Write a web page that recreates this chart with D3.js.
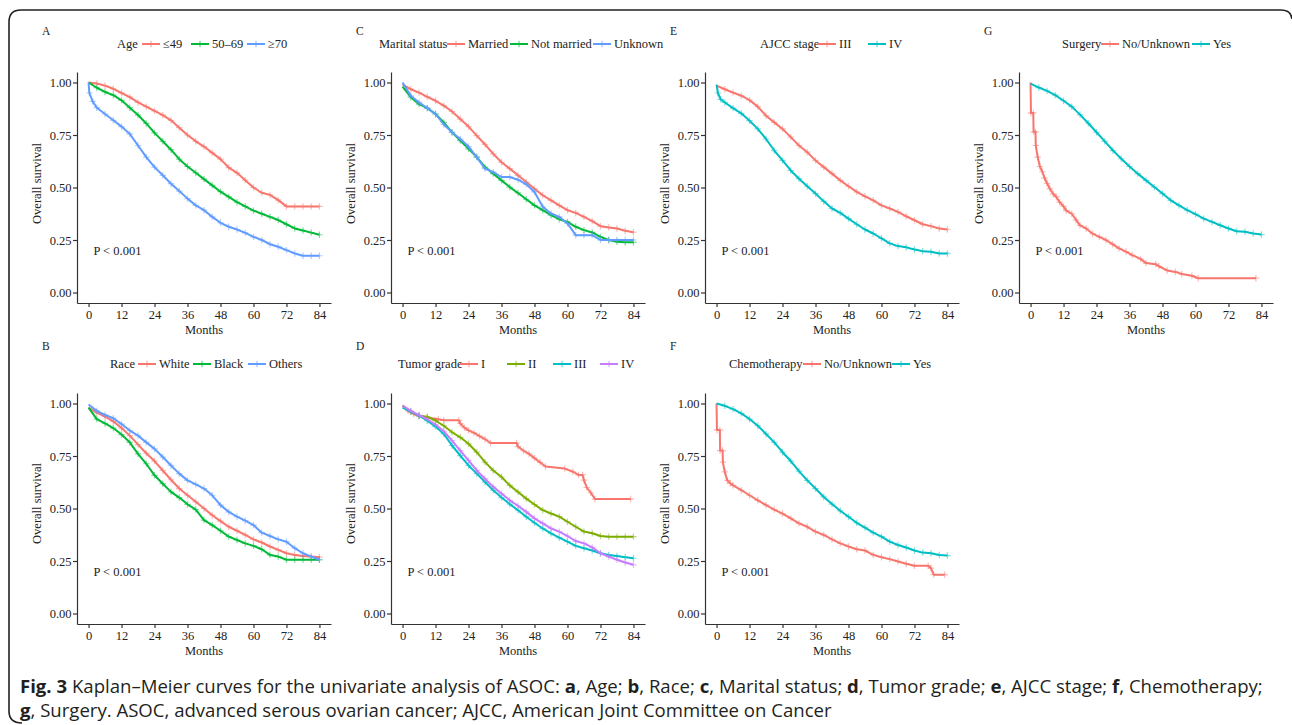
<!DOCTYPE html>
<meta charset="utf-8">
<head>
<title>Kaplan-Meier curves, ASOC</title>
<script src="https://cdn.jsdelivr.net/npm/d3@7"></script>
<style>
  body { margin: 0; background: #fff; }
  .serif text { font-family: "Liberation Serif", "Times New Roman", "DejaVu Serif", serif; fill: #222; }
  .axis path, .axis line { stroke: #333; stroke-width: 1.2; }
  .axis text { fill: #222; }
  .caption { font-family: "Open Sans", "Noto Sans", sans-serif; fill: #231f20; }
</style>
</head>
<body>
<div id="chart"></div>
<script>
// ---- data ----
var months = [0,3,6,9,12,15,18,21,24,27,30,33,36,39,42,45,48,51,54,57,60,63,66,69,72,75,78,81,84];
var monthTicks = [0,12,24,36,48,60,72,84];
var survTicks = [0,0.25,0.5,0.75,1];

// A: age
var ageLabels = ["≤49","50–69","≥70"];
var ageLe49 = [1.00,0.995,0.985,0.97,0.95,0.93,0.905,0.885,0.865,0.845,0.82,0.785,0.75,0.72,0.695,0.665,0.635,0.595,0.57,0.535,0.50,0.475,0.465,0.44,0.41,0.41,0.41,0.41,0.41];
var age50to69 = [1.00,0.975,0.955,0.94,0.915,0.88,0.845,0.805,0.76,0.72,0.68,0.635,0.60,0.57,0.54,0.51,0.48,0.455,0.43,0.41,0.39,0.375,0.36,0.345,0.325,0.305,0.295,0.285,0.275];
var ageGe70Months = [0,0.3,1.5,3,6,9,12,15,18,21,24,27,30,33,36,39,42,45,48,51,54,57,60,63,66,69,72,75,78,81,84];
var ageGe70 = [1.00,0.95,0.91,0.88,0.85,0.82,0.79,0.755,0.70,0.645,0.597,0.558,0.518,0.483,0.447,0.415,0.392,0.36,0.332,0.313,0.30,0.284,0.265,0.25,0.23,0.218,0.202,0.186,0.175,0.175,0.175];

// B: race
var raceLabels = ["White","Black","Others"];
var raceWhite = [0.98,0.957,0.937,0.915,0.883,0.847,0.804,0.763,0.726,0.681,0.637,0.595,0.563,0.532,0.50,0.468,0.44,0.413,0.394,0.374,0.353,0.338,0.319,0.303,0.287,0.279,0.274,0.271,0.268];
var raceBlack = [0.98,0.926,0.905,0.883,0.852,0.815,0.76,0.713,0.658,0.618,0.579,0.552,0.52,0.495,0.445,0.421,0.394,0.366,0.35,0.334,0.322,0.306,0.279,0.271,0.256,0.256,0.256,0.256,0.256];
var raceOthers = [0.995,0.965,0.946,0.93,0.902,0.871,0.847,0.815,0.784,0.745,0.705,0.666,0.634,0.615,0.595,0.563,0.516,0.484,0.461,0.442,0.421,0.385,0.369,0.353,0.342,0.311,0.287,0.271,0.256];

// C: marital status
var maritalLabels = ["Married","Not married","Unknown"];
var maritalMarried = [0.99,0.968,0.952,0.932,0.913,0.89,0.862,0.826,0.79,0.747,0.705,0.66,0.62,0.59,0.558,0.526,0.494,0.463,0.439,0.415,0.392,0.379,0.36,0.34,0.316,0.31,0.305,0.294,0.287];
var maritalNot = [0.98,0.93,0.897,0.878,0.85,0.81,0.763,0.723,0.684,0.645,0.597,0.566,0.534,0.502,0.474,0.444,0.415,0.392,0.368,0.349,0.336,0.313,0.297,0.286,0.265,0.25,0.242,0.239,0.239];
var maritalUnknown = [1.00,0.937,0.905,0.878,0.85,0.80,0.763,0.731,0.695,0.645,0.59,0.573,0.55,0.55,0.537,0.515,0.479,0.408,0.376,0.36,0.329,0.273,0.273,0.273,0.25,0.25,0.25,0.25,0.25];

// D: tumor grade
var gradeLabels = ["I","II","III","IV"];
var gradeIMonths = [0,2,4,6,9,13,15,20.5,21,22.5,24,26,28,30,32,41.5,42,44,46,48,50,52,59,62,64,65.5,66,67,68.5,70,83];
var gradeI = [0.99,0.965,0.95,0.94,0.933,0.925,0.92,0.92,0.905,0.885,0.872,0.86,0.845,0.83,0.812,0.812,0.795,0.775,0.76,0.74,0.72,0.70,0.69,0.675,0.66,0.66,0.635,0.60,0.575,0.545,0.545];
var gradeII = [0.99,0.96,0.942,0.937,0.918,0.894,0.863,0.839,0.808,0.768,0.721,0.681,0.65,0.61,0.579,0.547,0.519,0.492,0.476,0.461,0.437,0.413,0.39,0.382,0.369,0.366,0.366,0.366,0.366];
var gradeIII = [0.98,0.962,0.942,0.918,0.89,0.855,0.80,0.752,0.705,0.666,0.626,0.587,0.552,0.521,0.492,0.461,0.432,0.405,0.382,0.361,0.342,0.322,0.311,0.30,0.287,0.279,0.274,0.268,0.263];
var gradeIV = [0.99,0.965,0.945,0.925,0.90,0.868,0.823,0.776,0.729,0.681,0.642,0.603,0.571,0.539,0.513,0.484,0.453,0.429,0.405,0.39,0.369,0.345,0.334,0.315,0.287,0.271,0.256,0.243,0.232];

// E: AJCC stage
var stageLabels = ["III","IV"];
var stageIII = [0.985,0.968,0.952,0.937,0.916,0.885,0.842,0.81,0.779,0.74,0.70,0.668,0.629,0.597,0.566,0.534,0.506,0.479,0.458,0.439,0.415,0.40,0.384,0.363,0.344,0.325,0.316,0.305,0.30];
var stageIVMonths = [0,0.5,1.5,3,6,9,12,15,18,21,24,27,30,33,36,39,42,45,48,51,54,57,60,63,66,69,72,75,78,81,84];
var stageIV = [0.99,0.95,0.92,0.905,0.878,0.853,0.818,0.779,0.731,0.676,0.629,0.581,0.542,0.506,0.471,0.434,0.40,0.379,0.352,0.325,0.30,0.281,0.258,0.234,0.221,0.215,0.205,0.197,0.194,0.186,0.186];

// F: chemotherapy
var chemoLabels = ["No/Unknown","Yes"];
var chemoNoMonths = [0,0.15,1.2,1.3,2.2,2.3,3,3.9,5,6,9,12,15,18,21,24,27,30,33,36,39,42,45,48,51,54,57,60,63,66,69,72,77,78,79,83];
var chemoNo = [1.00,0.874,0.874,0.776,0.776,0.721,0.674,0.634,0.62,0.61,0.587,0.563,0.539,0.516,0.495,0.476,0.453,0.429,0.413,0.39,0.374,0.353,0.334,0.319,0.306,0.30,0.279,0.268,0.259,0.248,0.237,0.227,0.227,0.216,0.185,0.185];
var chemoYes = [1.00,0.989,0.973,0.953,0.926,0.894,0.855,0.815,0.768,0.726,0.678,0.634,0.595,0.555,0.521,0.489,0.461,0.432,0.409,0.385,0.366,0.342,0.326,0.314,0.30,0.29,0.287,0.279,0.276];

// G: surgery
var surgeryLabels = ["No/Unknown","Yes"];
var surgeryNoMonths = [0,0.15,1,1.1,1.8,1.9,2.6,3.4,4.3,5.1,6,7,8.2,9.4,10.6,12,13,15,16.6,18,20.2,22.6,25,27.4,29.8,32.2,34.7,37,40,42,45.5,46.7,49.7,52.7,55,58.7,61,82];
var surgeryNo = [1.00,0.855,0.855,0.765,0.765,0.70,0.645,0.60,0.575,0.545,0.52,0.495,0.47,0.455,0.43,0.41,0.39,0.375,0.345,0.32,0.305,0.28,0.265,0.25,0.23,0.21,0.195,0.178,0.16,0.14,0.135,0.125,0.105,0.098,0.088,0.08,0.068,0.068];
var surgeryYes = [0.995,0.976,0.96,0.94,0.913,0.885,0.847,0.806,0.763,0.72,0.676,0.637,0.60,0.566,0.534,0.502,0.471,0.439,0.415,0.392,0.373,0.352,0.336,0.32,0.305,0.292,0.289,0.281,0.276];

var pal2 = ["#F8766D","#00BFC4"],
    pal3 = ["#F8766D","#00BA38","#619CFF"],
    pal4 = ["#F8766D","#7CAE00","#00BFC4","#C77CFF"];

// ---- layout ----
var W = 1292, H = 725;
var serif = "'Liberation Serif', 'Times New Roman', 'DejaVu Serif', serif";
var colX = [77, 391, 705, 1019];
var rows = [
  {top: 72, bottom: 303, legend: 48, letter: 35, title: 334, ylabShift: -4},
  {top: 393, bottom: 624, legend: 368, letter: 350, title: 655, ylabShift: -5}
];

var panels = [
  {letter: "A", col: 0, row: 0, title: "Age", titleX: 117, keyX: [142,191,247], labels: ageLabels, colors: pal3,
   series: [[months, ageLe49], [months, age50to69], [ageGe70Months, ageGe70]]},
  {letter: "B", col: 0, row: 1, title: "Race", titleX: 110, keyX: [138,193,248], labels: raceLabels, colors: pal3,
   series: [[months, raceWhite], [months, raceBlack], [months, raceOthers]]},
  {letter: "C", col: 1, row: 0, title: "Marital status", titleX: 379, keyX: [447,510,593], labels: maritalLabels, colors: pal3,
   series: [[months, maritalMarried], [months, maritalNot], [months, maritalUnknown]]},
  {letter: "D", col: 1, row: 1, title: "Tumor grade", titleX: 398, keyX: [460,507,553,600], labels: gradeLabels, colors: pal4,
   series: [[gradeIMonths, gradeI], [months, gradeII], [months, gradeIII], [months, gradeIV]]},
  {letter: "E", col: 2, row: 0, title: "AJCC stage", titleX: 760, keyX: [818,868], labels: stageLabels, colors: pal2,
   series: [[months, stageIII], [stageIVMonths, stageIV]]},
  {letter: "F", col: 2, row: 1, title: "Chemotherapy", titleX: 729, keyX: [803,892], labels: chemoLabels, colors: pal2,
   series: [[chemoNoMonths, chemoNo], [months, chemoYes]]},
  {letter: "G", col: 3, row: 0, title: "Surgery", titleX: 1062, keyX: [1101,1192], labels: surgeryLabels, colors: pal2,
   series: [[surgeryNoMonths, surgeryNo], [months, surgeryYes]]}
];

var svg = d3.select("#chart").append("svg")
    .attr("width", W)
    .attr("height", H);

// rounded frame round the figure
svg.append("path")
    .attr("d", "M22,723 Q9,723 9,711 L9,22 Q9,10 21,10 L1281,10 Q1291,10 1292,19")
    .attr("fill", "none")
    .attr("stroke", "#222")
    .attr("stroke-width", 1.6);

var plus = "M-3.2,0h6.4M0,-3.2v6.4";

function label(g, txt) {
  return g.append("text")
      .attr("font-family", serif)
      .attr("font-size", 12.5)
      .attr("fill", "#222")
      .text(txt);
}

panels.forEach(function(p) {
  var ox = colX[p.col], r = rows[p.row];
  var x = d3.scaleLinear().domain([-4.2, 88.2]).range([ox, ox + 254]);
  var y = d3.scaleLinear().domain([-0.05, 1.05]).range([r.bottom, r.top]);
  var g = svg.append("g").attr("class", "serif");

  g.append("g")
      .attr("class", "axis")
      .attr("transform", "translate(0," + r.bottom + ")")
      .call(d3.axisBottom(x).tickValues(monthTicks).tickSize(4).tickSizeOuter(0).tickPadding(3))
      .attr("font-family", serif)
      .attr("font-size", 12.5);

  g.append("g")
      .attr("class", "axis")
      .attr("transform", "translate(" + ox + ",0)")
      .call(d3.axisLeft(y).tickValues(survTicks).tickFormat(d3.format(".2f")).tickSize(4).tickSizeOuter(0).tickPadding(1.5))
      .attr("font-family", serif)
      .attr("font-size", 12.5);

  // curves and censor marks
  var line = d3.line()
      .x(function(d) { return x(d[0]); })
      .y(function(d) { return y(d[1]); });

  p.series.forEach(function(s, i) {
    var pts = s[0].map(function(t, j) { return [t, s[1][j]]; });
    g.append("path")
        .attr("d", line(pts))
        .attr("fill", "none")
        .attr("stroke", p.colors[i])
        .attr("stroke-width", 2)
        .attr("stroke-linejoin", "round");
    g.selectAll(null)
        .data(pts.slice(1))
        .enter().append("path")
        .attr("d", plus)
        .attr("transform", function(d) { return "translate(" + x(d[0]) + "," + y(d[1]) + ")"; })
        .attr("stroke", p.colors[i])
        .attr("stroke-opacity", 0.5)
        .attr("stroke-width", 1.2);
  });

  // labels
  label(g, "Months")
      .attr("x", ox + 127)
      .attr("y", r.title)
      .attr("text-anchor", "middle");

  label(g, "Overall survival")
      .attr("transform", "translate(" + (ox - 40) + "," + ((r.top + r.bottom) / 2 + r.ylabShift) + ") rotate(-90)")
      .attr("text-anchor", "middle")
      .attr("dy", "0.35em");

  label(g, "P < 0.001")
      .attr("x", ox + 16.5)
      .attr("y", y(0.2) + 4.5);

  label(g, p.letter)
      .attr("x", ox - 35)
      .attr("y", r.letter)
      .attr("font-size", 11.5);

  // legend
  var ly = r.legend;
  label(g, p.title)
      .attr("x", p.titleX)
      .attr("y", ly);

  p.labels.forEach(function(lab, i) {
    var kx = p.keyX[i];
    g.append("line")
        .attr("x1", kx).attr("x2", kx + 18)
        .attr("y1", ly - 4).attr("y2", ly - 4)
        .attr("stroke", p.colors[i])
        .attr("stroke-width", 2);
    g.append("path")
        .attr("d", plus)
        .attr("transform", "translate(" + (kx + 9) + "," + (ly - 4) + ")")
        .attr("stroke", p.colors[i])
        .attr("stroke-opacity", 0.6)
        .attr("stroke-width", 1.2);
    label(g, lab)
        .attr("x", kx + 21)
        .attr("y", ly);
  });
});

// caption
var capLine1 = [["Fig. 3", true], [" Kaplan–Meier curves for the univariate analysis of ASOC: ", false],
  ["a", true], [", Age; ", false], ["b", true], [", Race; ", false], ["c", true], [", Marital status; ", false],
  ["d", true], [", Tumor grade; ", false], ["e", true], [", AJCC stage; ", false], ["f", true], [", Chemotherapy;", false]];
var capLine2 = [["g", true], [", Surgery. ASOC, advanced serous ovarian cancer; AJCC, American Joint Committee on Cancer", false]];

function caption(parts, yPos) {
  var t = svg.append("text")
      .attr("class", "caption")
      .attr("x", 20)
      .attr("y", yPos)
      .attr("font-size", 16);
  parts.forEach(function(pt) {
    t.append("tspan")
        .attr("font-weight", pt[1] ? "bold" : "normal")
        .text(pt[0]);
  });
  return t;
}
var c1 = caption(capLine1, 693);
var c2 = caption(capLine2, 717);
var fit = 16 * 1243 / c1.node().getComputedTextLength();
c1.attr("font-size", fit);
c2.attr("font-size", fit);
</script>
</body>
</html>
